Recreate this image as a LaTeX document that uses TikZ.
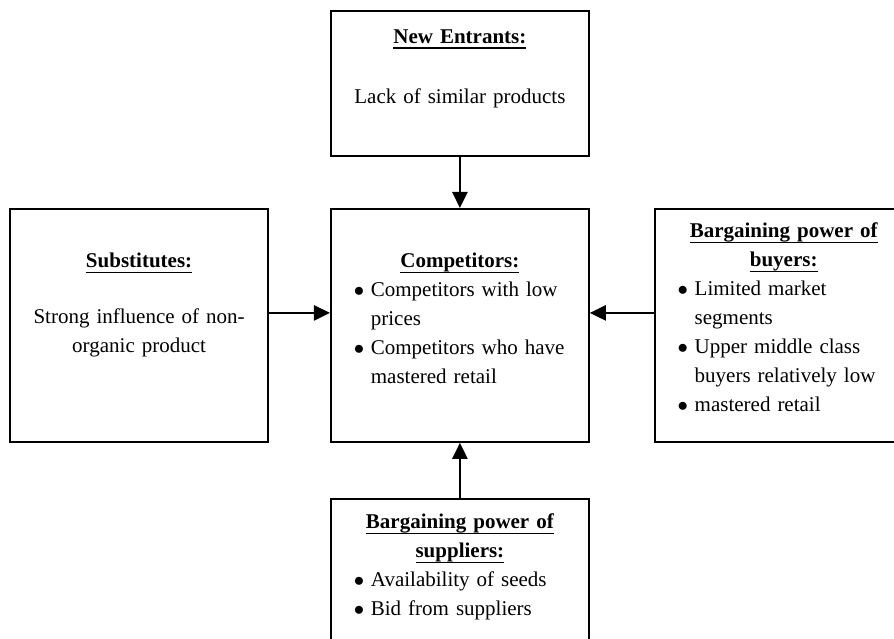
\documentclass[tikz,border=0pt]{standalone}
\usepackage{fontspec}
\setmainfont{Liberation Serif}
\usetikzlibrary{arrows.meta, positioning}

\newcommand{\head}[1]{\leavevmode\setbox0\hbox{\bfseries #1}\rlap{\rule[-5.5pt]{\wd0}{1.4pt}}\box0}
\newcommand{\bitem}[1]{\par\noindent\hangindent=17pt\hangafter=1\makebox[17pt][l]{$\bullet$}#1\par}

\begin{document}
\begin{tikzpicture}[
    box/.style = {draw, line width=1.8pt, minimum width=258pt, minimum height=233pt, inner sep=0pt},
    txt/.style = {anchor=base, inner sep=0pt, text width=240pt, font=\fontsize{21}{29}\selectfont},
    list/.style = {txt, text width=212pt},
    arr/.style = {-{Triangle[length=16pt, width=15pt]}, line width=2.5pt}]
    \node[box] (comp) {};
    \node[box, minimum height=145pt] (entrants) [above=51pt of comp] {};
    \node[box] (subst) [left=61pt of comp] {};
    \node[box] (buyers) [right=64pt of comp] {};
    \node[box] (suppliers) [below=55pt of comp] {};

    \node[txt] (entrantstxt) at ([yshift=-33pt]entrants.north) {\centering\head{New Entrants:}\\[31pt]Lack of similar products\par};
    \node[txt] (substtxt) at ([yshift=-60pt]subst.north) {\centering\head{Substitutes:}\\[27pt]Strong influence of non-\\organic product\par};
    \node[list] (comptxt) at ([yshift=-60pt]comp.north) {{\centering\head{Competitors:}\par}\bitem{Competitors with low\newline prices}\bitem{Competitors who have\newline mastered retail}};
    \node[list] (buyerstxt) at ([yshift=-30pt]buyers.north) {{\centering\head{Bargaining power of}\\\head{buyers:}\par}\bitem{Limited market\newline segments}\bitem{Upper middle class\newline buyers relatively low}\bitem{mastered retail}};
    \node[list] (supplierstxt) at ([yshift=-31pt]suppliers.north) {{\centering\head{Bargaining power of}\\\head{suppliers:}\par}\bitem{Availability of seeds}\bitem{Bid from suppliers}};

    \draw[arr] (entrants) -- (comp);
    \draw[arr] ([yshift=12.5pt]subst.east) -- ([yshift=12.5pt]comp.west);
    \draw[arr] ([yshift=12.5pt]buyers.west) -- ([yshift=12.5pt]comp.east);
    \draw[arr] (suppliers) -- (comp);

    \pgfresetboundingbox
    \path[use as bounding box] ([xshift=-330pt, yshift=208pt]comp.north west) rectangle ++(894pt,-639pt);
\end{tikzpicture}
\end{document}
